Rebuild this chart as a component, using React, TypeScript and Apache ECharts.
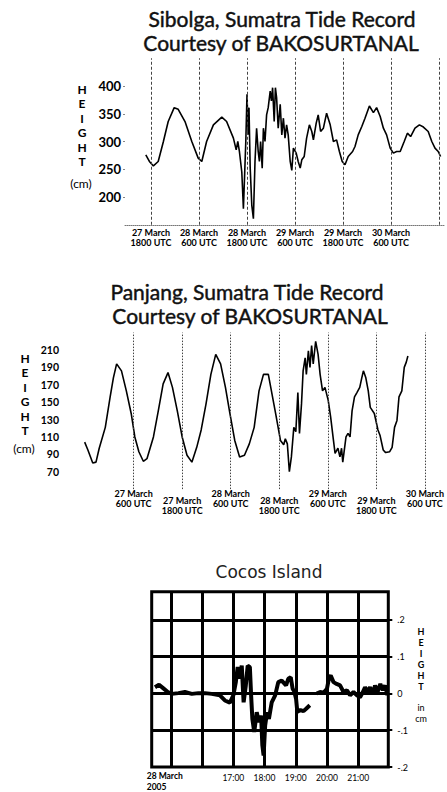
import React, { useEffect, useRef } from 'react';
import * as echarts from 'echarts';

// ---------- Sibolga (hours since 27 March 00:00 UTC, height cm) ----------
const sibolgaHours = [16.7, 17.6, 18.6, 19.8, 21.1, 22.3, 23.8, 24.8, 26.5, 28.2, 29.8, 30.7, 31.9, 33.6, 35.7, 36.9, 38.6, 39.3, 39.7, 40.1, 40.7, 41.1, 41.4, 41.7, 42.0, 42.3, 42.5, 42.8, 43.2, 43.6, 44.0, 44.4, 44.8, 45.1, 45.4, 45.8, 46.1, 46.5, 46.9, 47.3, 47.8, 48.1, 48.4, 48.8, 49.1, 49.4, 49.8, 50.3, 50.7, 51.1, 51.5, 51.9, 52.3, 52.8, 53.2, 53.6, 54.3, 54.8, 55.3, 55.7, 56.3, 56.9, 57.6, 58.2, 58.6, 59.3, 59.8, 60.4, 61.1, 61.9, 62.8, 63.6, 64.4, 65.1, 65.8, 66.5, 67.3, 68.4, 69.0, 69.8, 70.7, 71.5, 72.6, 73.6, 74.4, 75.3, 76.1, 76.9, 77.8, 78.6, 79.4, 80.3, 81.3, 82.1, 82.9, 84.0, 85.1, 86.1, 87.3, 88.2, 89.0, 89.8, 90.4];
const sibolgaHeights = [276, 264, 256, 264, 300, 336, 361, 358, 336, 300, 270, 264, 300, 330, 344, 336, 306, 285, 300, 282, 245, 179, 239, 300, 385, 312, 361, 252, 185, 161, 264, 324, 282, 264, 300, 252, 324, 300, 348, 361, 391, 373, 397, 336, 397, 379, 324, 367, 312, 342, 306, 330, 312, 264, 248, 288, 279, 264, 252, 267, 273, 306, 330, 318, 303, 333, 348, 318, 324, 351, 330, 300, 303, 282, 264, 258, 273, 282, 291, 312, 327, 342, 364, 352, 361, 345, 324, 312, 288, 279, 282, 282, 300, 315, 309, 324, 330, 326, 318, 300, 288, 282, 273];
const sibolgaTickHours = [18, 30, 42, 54, 66, 78];
const sibolgaTickLabels = ['27 March\n1800 UTC', '28 March\n600 UTC', '28 March\n1800 UTC', '29 March\n600 UTC', '29 March\n1800 UTC', '30 March\n600 UTC'];
const sibolgaLineHours = [18, 30, 42, 54, 66, 78, 90];
const sibolgaYTicks = [200, 250, 300, 350, 400];

// ---------- Panjang ----------
const panjangHours = [-6.1, -5.3, -4.1, -3.3, -2.5, -1.0, 0.2, 1.0, 1.8, 3.0, 4.2, 5.4, 6.3, 7.3, 8.4, 9.3, 10.9, 12.1, 13.3, 14.5, 15.6, 16.8, 18.0, 19.2, 20.4, 21.6, 22.7, 23.9, 25.1, 26.3, 27.5, 28.7, 29.8, 31.0, 32.2, 33.4, 34.6, 35.8, 37.0, 38.1, 39.3, 39.9, 41.1, 42.3, 43.1, 43.5, 44.0, 44.5, 45.0, 45.6, 46.1, 46.6, 47.0, 47.5, 47.9, 48.4, 48.7, 49.2, 49.6, 50.0, 50.4, 51.0, 51.6, 52.1, 52.7, 53.3, 54.1, 54.7, 55.4, 55.8, 56.5, 57.0, 57.4, 57.7, 58.5, 59.0, 59.5, 60.0, 60.6, 61.2, 61.9, 62.4, 62.8, 63.4, 64.0, 64.5, 65.5, 66.4, 66.9, 67.7, 68.3, 69.3, 69.9, 70.5, 71.1, 71.6, 72.3, 72.9, 73.4, 73.8];
const panjangHeights = [104, 95, 80, 81, 97, 121, 156, 178, 194, 186, 163, 137, 110, 93, 82, 85, 110, 140, 171, 184, 167, 140, 110, 89, 81, 98, 118, 148, 182, 205, 194, 167, 137, 106, 87, 89, 102, 121, 163, 182, 182, 167, 137, 106, 101, 108, 102, 70, 87, 121, 116, 161, 114, 148, 186, 201, 182, 209, 190, 215, 194, 220, 205, 182, 163, 167, 152, 133, 106, 91, 97, 87, 97, 81, 110, 114, 110, 140, 156, 161, 167, 178, 186, 178, 163, 144, 137, 118, 112, 95, 92, 93, 98, 121, 129, 156, 163, 190, 196, 203];
const panjangUpperTickHours = [6, 30, 54, 78];
const panjangUpperTickLabels = ['27 March\n600 UTC', '28 March\n600 UTC', '29 March\n600 UTC', '30 March\n600 UTC'];
const panjangLowerTickHours = [18, 42, 66];
const panjangLowerTickLabels = ['27 March\n1800 UTC', '28 March\n1800 UTC', '29 March\n1800 UTC'];
const panjangLineHours = [6, 18, 30, 42, 54, 66, 78];
const panjangYTicks = [70, 90, 110, 130, 150, 170, 190, 210];

// ---------- Cocos Island (hour of 28 March 2005, height) ----------
const cocosHours = [14.49, 14.62, 14.76, 14.9, 15.03, 15.24, 15.45, 15.67, 15.88, 16.09, 16.31, 16.57, 16.73, 16.89, 17.0, 17.08, 17.14, 17.2, 17.27, 17.33, 17.4, 17.46, 17.53, 17.57, 17.61, 17.67, 17.75, 17.82, 17.89, 17.93, 17.97, 18.02, 18.08, 18.14, 18.23, 18.34, 18.44, 18.55, 18.69, 18.76, 18.84, 18.9, 18.95, 19.01, 19.05, 19.15, 19.25, 19.35, 19.45, 19.55, 19.67, 19.78, 19.89, 20.0, 20.07, 20.12, 20.21, 20.31, 20.42, 20.53, 20.64, 20.74, 20.85, 20.96, 21.06, 21.15, 21.22, 21.3, 21.38, 21.47, 21.54, 21.62, 21.71, 21.79, 21.86, 21.94];
const cocosHeights = [0.017, 0.024, 0.014, 0.004, -0.001, 0.001, 0.004, -0.001, 0.001, 0.001, -0.001, -0.005, -0.019, -0.025, -0.005, 0.031, 0.072, 0.04, 0.076, -0.024, 0.022, 0.076, 0.072, -0.005, -0.069, -0.105, -0.051, -0.078, -0.06, -0.141, -0.169, -0.087, -0.051, -0.069, -0.024, -0.005, 0.031, 0.035, 0.022, 0.04, 0.044, 0.013, 0.006, -0.014, -0.05, -0.045, -0.048, -0.04, -0.032, null, 0.0, 0.004, 0.002, 0.013, 0.044, 0.049, 0.031, 0.026, 0.022, 0.004, 0.009, -0.005, 0.004, -0.005, -0.01, 0.004, 0.017, 0.004, 0.017, 0.0, 0.022, 0.004, 0.026, 0.009, 0.022, -0.005];
const cocosTickHours = [17, 18, 19, 20, 21];
const cocosTickLabels = ['17:00', '18:00', '19:00', '20:00', '21:00'];
const cocosGridHours = [15, 16, 17, 18, 19, 20, 21];
const cocosYTicks = [-0.2, -0.1, 0, 0.1, 0.2];
const cocosYLabels = ['-.2', '-.1', '0', '.1', '.2'];
const cocosGridHeights = [-0.1, 0, 0.1, 0.2];

const FONT = 'Lato, "Open Sans", sans-serif';
const INK = '#000';

function pick(values: number[], labels: string[]) {
  return (v: number) => {
    for (let i = 0; i < values.length; i++) {
      if (Math.abs(values[i] - v) < 1e-6) return labels[i];
    }
    return '';
  };
}

export default function App() {
  const ref = useRef<HTMLDivElement>(null);

  useEffect(() => {
    if (!ref.current) return;
    const chart = echarts.init(ref.current, undefined, { renderer: 'svg' });

    const sibolgaData = sibolgaHours.map((h, i) => [h, sibolgaHeights[i]]);
    const panjangData = panjangHours.map((h, i) => [h, panjangHeights[i]]);
    const cocosData = cocosHours.map((h, i) => [h, cocosHeights[i] === null ? '-' : cocosHeights[i]]);

    const dotted = { color: '#444', width: 1, type: [3, 2] as any };
    const titleStyle = (text: string) => ({
      text, font: `21px ${FONT}`, fill: '#111', stroke: '#111', lineWidth: 0.45,
      textAlign: 'center', textVerticalAlign: 'middle',
    });
    const xLabel = { fontFamily: FONT, fontSize: 9, fontWeight: 'bold', color: INK, lineHeight: 9.5 };

    const option: any = {
      animation: false,
      backgroundColor: '#fff',
      textStyle: { fontFamily: FONT },
      grid: [
        { left: 125, top: 58.25, width: 320, height: 166.5 },
        { left: 79, top: 332.6, width: 365.2, height: 156.5 },
        { left: 151.7, top: 591.7, width: 236.6, height: 175.3, show: true, borderColor: INK, borderWidth: 3, backgroundColor: 'transparent' },
      ],
      xAxis: [
        {
          type: 'value', gridIndex: 0, min: 11.5, max: 91.5, position: 'bottom',
          axisLine: { show: true, lineStyle: { color: '#777', type: 'dotted', width: 1 } },
          axisTick: { show: false },
          splitLine: { show: false },
          axisLabel: {
            customValues: sibolgaTickHours, formatter: pick(sibolgaTickHours, sibolgaTickLabels),
            ...xLabel, margin: 3,
          },
        },
        {
          type: 'value', gridIndex: 1, min: -7.5, max: 79, position: 'bottom',
          axisLine: { show: false }, axisTick: { show: false }, splitLine: { show: false },
          axisLabel: {
            customValues: panjangUpperTickHours, formatter: pick(panjangUpperTickHours, panjangUpperTickLabels),
            ...xLabel, margin: 0,
          },
        },
        {
          type: 'value', gridIndex: 1, min: -7.5, max: 79, position: 'bottom', offset: 7,
          axisLine: { show: false }, axisTick: { show: false }, splitLine: { show: false },
          axisLabel: {
            customValues: panjangLowerTickHours, formatter: pick(panjangLowerTickHours, panjangLowerTickLabels),
            ...xLabel, margin: 0,
          },
        },
        {
          type: 'value', gridIndex: 2, min: 14.385, max: 21.965, position: 'bottom',
          axisLine: { show: false }, axisTick: { show: false }, splitLine: { show: false },
          axisLabel: {
            customValues: cocosTickHours, formatter: pick(cocosTickHours, cocosTickLabels),
            fontFamily: FONT, fontSize: 8.5, color: INK, margin: 6,
          },
        },
      ],
      yAxis: [
        {
          type: 'value', gridIndex: 0, min: 150, max: 450,
          axisLine: { show: false },
          axisTick: { show: true, customValues: sibolgaYTicks, length: 2, lineStyle: { color: '#888' } },
          splitLine: { show: false },
          axisLabel: {
            customValues: sibolgaYTicks, fontFamily: FONT, fontSize: 13, fontWeight: 'bold', color: INK, margin: 4,
          },
        },
        {
          type: 'value', gridIndex: 1, min: 50, max: 230,
          axisLine: { show: false }, axisTick: { show: false }, splitLine: { show: false },
          axisLabel: {
            customValues: panjangYTicks, fontFamily: FONT, fontSize: 10.5, fontWeight: 'bold', color: INK, margin: 20,
          },
        },
        {
          type: 'value', gridIndex: 2, min: -0.2, max: 0.277, position: 'right',
          axisLine: { show: false },
          axisTick: { show: true, customValues: cocosYTicks, length: 4, lineStyle: { color: INK, width: 2 } },
          splitLine: { show: false },
          axisLabel: {
            customValues: cocosYTicks, formatter: pick(cocosYTicks, cocosYLabels),
            fontFamily: FONT, fontSize: 9, color: INK, margin: 9,
          },
        },
      ],
      series: [
        {
          type: 'line', xAxisIndex: 0, yAxisIndex: 0, data: sibolgaData, symbol: 'none',
          lineStyle: { color: INK, width: 1.6 },
          markLine: {
            silent: true, symbol: 'none', label: { show: false }, lineStyle: dotted,
            data: sibolgaLineHours.map((h) => ({ xAxis: h })),
          },
        },
        {
          type: 'line', xAxisIndex: 1, yAxisIndex: 1, data: panjangData, symbol: 'none',
          lineStyle: { color: INK, width: 1.6 },
          markLine: {
            silent: true, symbol: 'none', label: { show: false }, lineStyle: { ...dotted, type: [1.5, 1.5] },
            data: panjangLineHours.map((h) => ({ xAxis: h })),
          },
        },
        {
          type: 'line', xAxisIndex: 3, yAxisIndex: 2, data: cocosData, symbol: 'none', connectNulls: false,
          lineStyle: { color: INK, width: 4 }, z: 5,
          markLine: {
            silent: true, symbol: 'none', label: { show: false }, lineStyle: { color: INK, width: 3, type: 'solid' },
            data: [
              ...cocosGridHours.map((h) => ({ xAxis: h })),
              ...cocosGridHeights.map((v) => ({ yAxis: v })),
            ],
          },
        },
      ],
      graphic: [
        { type: 'text', x: 282, y: 18, style: titleStyle('Sibolga, Sumatra Tide Record') },
        { type: 'text', x: 281, y: 42, style: titleStyle('Courtesy of BAKOSURTANAL') },
        { type: 'text', x: 82, y: 81.7, style: { text: 'H\nE\nI\nG\nH\nT', font: `bold 12px ${FONT}`, lineHeight: 14.6, fill: INK, textAlign: 'center', textVerticalAlign: 'top' } },
        { type: 'text', x: 81, y: 183, style: { text: '(cm)', font: `12px ${FONT}`, fill: INK, textAlign: 'center', textVerticalAlign: 'middle' } },

        { type: 'text', x: 247, y: 291, style: titleStyle('Panjang, Sumatra Tide Record') },
        { type: 'text', x: 250, y: 315, style: titleStyle('Courtesy of BAKOSURTANAL') },
        { type: 'text', x: 25, y: 351, style: { text: 'H\nE\nI\nG\nH\nT', font: `bold 12px ${FONT}`, lineHeight: 14.5, fill: INK, textAlign: 'center', textVerticalAlign: 'top' } },
        { type: 'text', x: 24, y: 448, style: { text: '(cm)', font: `12px ${FONT}`, fill: INK, textAlign: 'center', textVerticalAlign: 'middle' } },

        { type: 'text', x: 269, y: 572, style: { text: 'Cocos Island', font: `17px "DejaVu Sans", sans-serif`, fill: '#222', textAlign: 'center', textVerticalAlign: 'middle' } },
        { type: 'text', x: 421, y: 626.3, style: { text: 'H\nE\nI\nG\nH\nT', font: `bold 9px ${FONT}`, lineHeight: 10.9, fill: INK, textAlign: 'center', textVerticalAlign: 'top' } },
        { type: 'text', x: 421, y: 701.5, style: { text: 'in\ncm', font: `9px ${FONT}`, lineHeight: 11, fill: INK, textAlign: 'center', textVerticalAlign: 'top' } },
        { type: 'text', x: 146.7, y: 771, style: { text: '28 March\n2005', font: `bold 8.5px ${FONT}`, lineHeight: 10.5, fill: INK, textAlign: 'left', textVerticalAlign: 'top' } },
      ],
    };

    chart.setOption(option);
    return () => chart.dispose();
  }, []);

  return (
    <div
      ref={ref}
      style={{ position: 'absolute', left: 0, top: 0, width: 447, height: 792 }}
    />
  );
}
